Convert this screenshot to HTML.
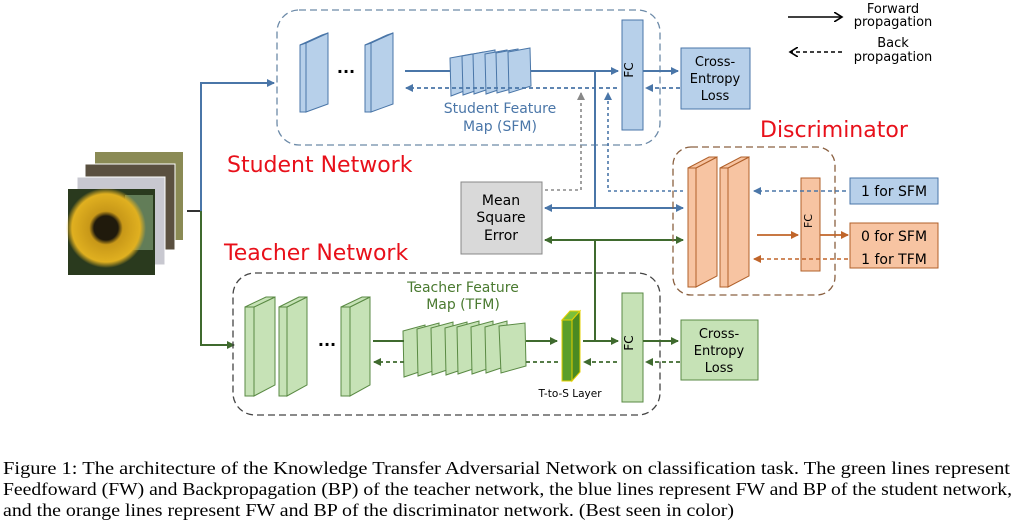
<!DOCTYPE html>
<html><head><meta charset="utf-8"><style>
html,body{margin:0;padding:0;background:#fff;width:1015px;height:522px;overflow:hidden}
svg{display:block}
text{font-family:"DejaVu Sans","Liberation Sans",sans-serif}
</style></head><body>
<svg width="1015" height="522" viewBox="0 0 1015 522" xmlns="http://www.w3.org/2000/svg">
<defs>
<marker id="ab" markerWidth="8" markerHeight="8" refX="7" refY="4" orient="auto" markerUnits="userSpaceOnUse"><path d="M0,0 L8,4 L0,8 z" fill="#4a76a8"/></marker>
<marker id="ag" markerWidth="8" markerHeight="8" refX="7" refY="4" orient="auto" markerUnits="userSpaceOnUse"><path d="M0,0 L8,4 L0,8 z" fill="#3f6a2e"/></marker>
<marker id="ao" markerWidth="8" markerHeight="8" refX="7" refY="4" orient="auto" markerUnits="userSpaceOnUse"><path d="M0,0 L8,4 L0,8 z" fill="#c0652a"/></marker>
<marker id="ay" markerWidth="8" markerHeight="8" refX="7" refY="4" orient="auto" markerUnits="userSpaceOnUse"><path d="M0,0 L8,4 L0,8 z" fill="#888"/></marker>
<marker id="ak" markerWidth="10" markerHeight="10" refX="8" refY="5" orient="auto" markerUnits="userSpaceOnUse"><path d="M0,0 L8,5 L0,10" fill="none" stroke="#000" stroke-width="1.6"/></marker>
<radialGradient id="sun" cx="0.5" cy="0.5" r="0.5"><stop offset="0.3" stop-color="#201a0c"/><stop offset="0.42" stop-color="#c89818"/><stop offset="0.85" stop-color="#e0b020"/><stop offset="1" stop-color="#e0b020" stop-opacity="0"/></radialGradient>
</defs>

<!-- images -->
<rect x="95" y="152" width="88" height="88" fill="#8a8a55"/>
<rect x="85" y="164" width="90" height="86" fill="#5a5040" stroke="#fff"/>
<rect x="77" y="177" width="88" height="88" fill="#c8c8d0" stroke="#fff"/>
<rect x="68" y="189" width="87" height="86" fill="#2a3a1e"/>
<rect x="125" y="195" width="28" height="55" fill="#7a9a70" opacity="0.7"/>
<circle cx="106" cy="228" r="40" fill="url(#sun)"/>

<!-- trunk -->
<line x1="187" y1="211" x2="201" y2="211" stroke="#000" stroke-width="1.6"/>
<path d="M201,211 V83 H274" fill="none" stroke="#4a76a8" stroke-width="2" marker-end="url(#ab)"/>
<path d="M201,211 V345 H234" fill="none" stroke="#3f6a2e" stroke-width="2" marker-end="url(#ag)"/>

<!-- legend -->
<line x1="788" y1="17" x2="842" y2="17" stroke="#000" stroke-width="1.6" marker-end="url(#ak)"/>
<text x="893" y="13" font-size="13" text-anchor="middle">Forward</text>
<text x="893" y="26" font-size="13" text-anchor="middle">propagation</text>
<line x1="842" y1="52" x2="790" y2="52" stroke="#000" stroke-width="1.6" stroke-dasharray="4,3" marker-end="url(#ak)"/>
<text x="893" y="47" font-size="13" text-anchor="middle">Back</text>
<text x="893" y="61" font-size="13" text-anchor="middle">propagation</text>

<!-- Student box -->
<rect x="277" y="10" width="383" height="135" rx="22" fill="none" stroke="#6c8aa8" stroke-width="1.3" stroke-dasharray="7,4"/>
<g fill="#b7d0ea" stroke="#4a76a8" stroke-width="1">
<path d="M300,45 L306,43 L306,112 L300,112 z"/><path d="M306,43 L328,33 L328,104 L306,112 z"/><path d="M300,45 L322,35 L328,33 L306,43z"/>
<path d="M365,45 L371,43 L371,112 L365,112 z"/><path d="M371,43 L393,33 L393,104 L371,112 z"/><path d="M365,45 L387,35 L393,33 L371,43z"/>
<path d="M450,58 L472,54 L472,88 L451,96z"/><path d="M462,56 L484,52 L484,88 L463,95z"/><path d="M473,54 L495,50 L495,87 L474,94z"/><path d="M485,54 L507,50 L507,87 L486,94z"/><path d="M496,53 L518,49 L518,87 L497,93z"/><path d="M508,52 L530,48 L531,86 L509,93z"/>
<rect x="622" y="20" width="21" height="110"/>
<rect x="681" y="48" width="69" height="61"/>
</g>
<text x="346" y="77" font-size="16" text-anchor="middle" font-weight="bold">···</text>
<line x1="405" y1="71" x2="450" y2="71" stroke="#4a76a8" stroke-width="2"/>
<line x1="531" y1="71" x2="618" y2="71" stroke="#4a76a8" stroke-width="2" marker-end="url(#ab)"/>
<line x1="617" y1="88" x2="406" y2="88" stroke="#4a76a8" stroke-width="1.8" stroke-dasharray="4,3" marker-end="url(#ab)"/>
<text x="500" y="113" font-size="14" fill="#4a76a8" text-anchor="middle">Student Feature</text>
<text x="500" y="131" font-size="14" fill="#4a76a8" text-anchor="middle">Map (SFM)</text>
<text x="638" y="75" font-size="12" text-anchor="middle" transform="rotate(-90 633 75)">FC</text>
<line x1="643" y1="71" x2="678" y2="71" stroke="#4a76a8" stroke-width="2" marker-end="url(#ab)"/>
<line x1="680" y1="88" x2="646" y2="88" stroke="#4a76a8" stroke-width="1.8" stroke-dasharray="4,3" marker-end="url(#ab)"/>
<text x="715" y="66" font-size="13" text-anchor="middle">Cross-</text>
<text x="715" y="83" font-size="13" text-anchor="middle">Entropy</text>
<text x="715" y="100" font-size="13" text-anchor="middle">Loss</text>

<text x="227" y="172" font-size="22" fill="#e8101a">Student Network</text>
<text x="224" y="260" font-size="22" fill="#e8101a">Teacher Network</text>
<text x="760" y="137" font-size="22" fill="#e8101a">Discriminator</text>

<!-- MSE -->
<rect x="461" y="182" width="81" height="72" fill="#d9d9d9" stroke="#888"/>
<text x="501" y="205" font-size="14" text-anchor="middle">Mean</text>
<text x="501" y="222" font-size="14" text-anchor="middle">Square</text>
<text x="501" y="240" font-size="14" text-anchor="middle">Error</text>
<path d="M545,190 H581 V93" fill="none" stroke="#888" stroke-width="1.6" stroke-dasharray="3,3" marker-end="url(#ay)"/>
<path d="M683,191 H608 V93" fill="none" stroke="#4a76a8" stroke-width="1.6" stroke-dasharray="3,3" marker-end="url(#ab)"/>
<line x1="595" y1="71" x2="595" y2="208" stroke="#4a76a8" stroke-width="2"/>
<line x1="595" y1="208" x2="545" y2="208" stroke="#4a76a8" stroke-width="2" marker-end="url(#ab)"/>
<line x1="595" y1="208" x2="683" y2="208" stroke="#4a76a8" stroke-width="2" marker-end="url(#ab)"/>
<line x1="595" y1="240" x2="545" y2="240" stroke="#3f6a2e" stroke-width="2" marker-end="url(#ag)"/>
<line x1="595" y1="240" x2="683" y2="240" stroke="#3f6a2e" stroke-width="2" marker-end="url(#ag)"/>
<line x1="595" y1="240" x2="595" y2="341" stroke="#3f6a2e" stroke-width="2"/>

<!-- Discriminator -->
<rect x="673" y="147" width="162" height="148" rx="18" fill="none" stroke="#8a6040" stroke-width="1.3" stroke-dasharray="7,4"/>
<g fill="#f7c4a2" stroke="#b0602a" stroke-width="1">
<path d="M688,168 L696,168 L696,287 L688,287z"/><path d="M696,168 L717,157 L717,276 L696,287z"/><path d="M688,168 L709,157 L717,157 L696,168z"/>
<path d="M720,168 L728,168 L728,287 L720,287z"/><path d="M728,168 L749,157 L749,276 L728,287z"/><path d="M720,168 L741,157 L749,157 L728,168z"/>
<rect x="801" y="178" width="19" height="93"/>
<rect x="850" y="223" width="88" height="45"/>
</g>
<rect x="850" y="178" width="88" height="26" fill="#b7d0ea" stroke="#4a76a8"/>
<text x="894" y="196" font-size="14" text-anchor="middle">1 for SFM</text>
<text x="894" y="241" font-size="14" text-anchor="middle">0 for SFM</text>
<text x="894" y="264" font-size="14" text-anchor="middle">1 for TFM</text>
<text x="816" y="225" font-size="11" text-anchor="middle" transform="rotate(-90 812 225)">FC</text>
<line x1="846" y1="191" x2="754" y2="191" stroke="#4a76a8" stroke-width="1.6" stroke-dasharray="4,3" marker-end="url(#ab)"/>
<line x1="757" y1="235" x2="798" y2="235" stroke="#c0652a" stroke-width="1.8" marker-end="url(#ao)"/>
<line x1="820" y1="235" x2="848" y2="235" stroke="#c0652a" stroke-width="1.8" marker-end="url(#ao)"/>
<line x1="848" y1="259" x2="754" y2="259" stroke="#c0652a" stroke-width="1.6" stroke-dasharray="4,3" marker-end="url(#ao)"/>

<!-- Teacher box -->
<rect x="233" y="273" width="427" height="142" rx="22" fill="none" stroke="#444" stroke-width="1.3" stroke-dasharray="7,4"/>
<g fill="#c6e2b6" stroke="#5a8a44" stroke-width="1">
<path d="M245,307 L254,307 L254,396 L245,396z"/><path d="M254,307 L275,297 L275,385 L254,396z"/><path d="M245,307 L266,297 L275,297 L254,307z"/>
<path d="M279,307 L287,307 L287,396 L279,396z"/><path d="M287,307 L307,297 L307,385 L287,396z"/><path d="M279,307 L299,297 L307,297 L287,307z"/>
<path d="M341,307 L350,307 L350,396 L341,396z"/><path d="M350,307 L370,297 L370,385 L350,396z"/><path d="M341,307 L362,297 L370,297 L350,307z"/>
<path d="M403,331 L425,325 L425,370 L404,377z"/><path d="M417,329 L439,323 L439,369 L418,376z"/><path d="M431,328 L453,322 L453,368 L432,375z"/><path d="M445,328 L467,322 L467,368 L446,375z"/><path d="M457,327 L479,321 L479,367 L458,374z"/><path d="M471,327 L493,321 L493,367 L472,374z"/><path d="M485,327 L507,321 L507,366 L486,373z"/><path d="M499,326 L525,323 L526,366 L501,373z"/>
<rect x="622" y="293" width="21" height="109"/>
<rect x="681" y="320" width="77" height="60"/>
</g>
<path d="M562,320 L570,311 L580,311 L572,320z" fill="#7bbf3a" stroke="#e6d000"/>
<path d="M562,320 L572,320 L572,381 L562,381z" fill="#5a9e2a" stroke="#e6d000"/>
<path d="M572,320 L580,311 L580,372 L572,381z" fill="#4a8a22" stroke="#e6d000"/>
<text x="327" y="350" font-size="16" text-anchor="middle" font-weight="bold">···</text>
<text x="463" y="292" font-size="14" fill="#4a7a30" text-anchor="middle">Teacher Feature</text>
<text x="463" y="309" font-size="14" fill="#4a7a30" text-anchor="middle">Map (TFM)</text>
<line x1="373" y1="341" x2="404" y2="341" stroke="#3f6a2e" stroke-width="2"/>
<line x1="526" y1="341" x2="557" y2="341" stroke="#3f6a2e" stroke-width="2" marker-end="url(#ag)"/>
<line x1="583" y1="341" x2="618" y2="341" stroke="#3f6a2e" stroke-width="2" marker-end="url(#ag)"/>
<line x1="558" y1="362" x2="526" y2="362" stroke="#3f6a2e" stroke-width="1.8" stroke-dasharray="4,3"/>
<line x1="404" y1="362" x2="374" y2="362" stroke="#3f6a2e" stroke-width="1.8" stroke-dasharray="4,3" marker-end="url(#ag)"/>
<line x1="617" y1="362" x2="584" y2="362" stroke="#3f6a2e" stroke-width="1.8" stroke-dasharray="4,3" marker-end="url(#ag)"/>
<text x="570" y="397" font-size="10.5" text-anchor="middle">T-to-S Layer</text>
<text x="638" y="348" font-size="12" text-anchor="middle" transform="rotate(-90 633 348)">FC</text>
<line x1="643" y1="341" x2="678" y2="341" stroke="#3f6a2e" stroke-width="2" marker-end="url(#ag)"/>
<line x1="680" y1="362" x2="646" y2="362" stroke="#3f6a2e" stroke-width="1.8" stroke-dasharray="4,3" marker-end="url(#ag)"/>
<text x="719" y="338" font-size="13" text-anchor="middle">Cross-</text>
<text x="719" y="355" font-size="13" text-anchor="middle">Entropy</text>
<text x="719" y="372" font-size="13" text-anchor="middle">Loss</text>

<!-- caption -->
<g font-size="18">
<text x="3" y="474" textLength="1007" lengthAdjust="spacingAndGlyphs" style="font-family:'Liberation Serif',serif">Figure 1: The architecture of the Knowledge Transfer Adversarial Network on classification task. The green lines represent</text>
<text x="3" y="495" textLength="1009" lengthAdjust="spacingAndGlyphs" style="font-family:'Liberation Serif',serif">Feedfoward (FW) and Backpropagation (BP) of the teacher network, the blue lines represent FW and BP of the student network,</text>
<text x="3" y="516" textLength="731" lengthAdjust="spacingAndGlyphs" style="font-family:'Liberation Serif',serif">and the orange lines represent FW and BP of the discriminator network. (Best seen in color)</text>
</g>
</svg>
</body></html>
